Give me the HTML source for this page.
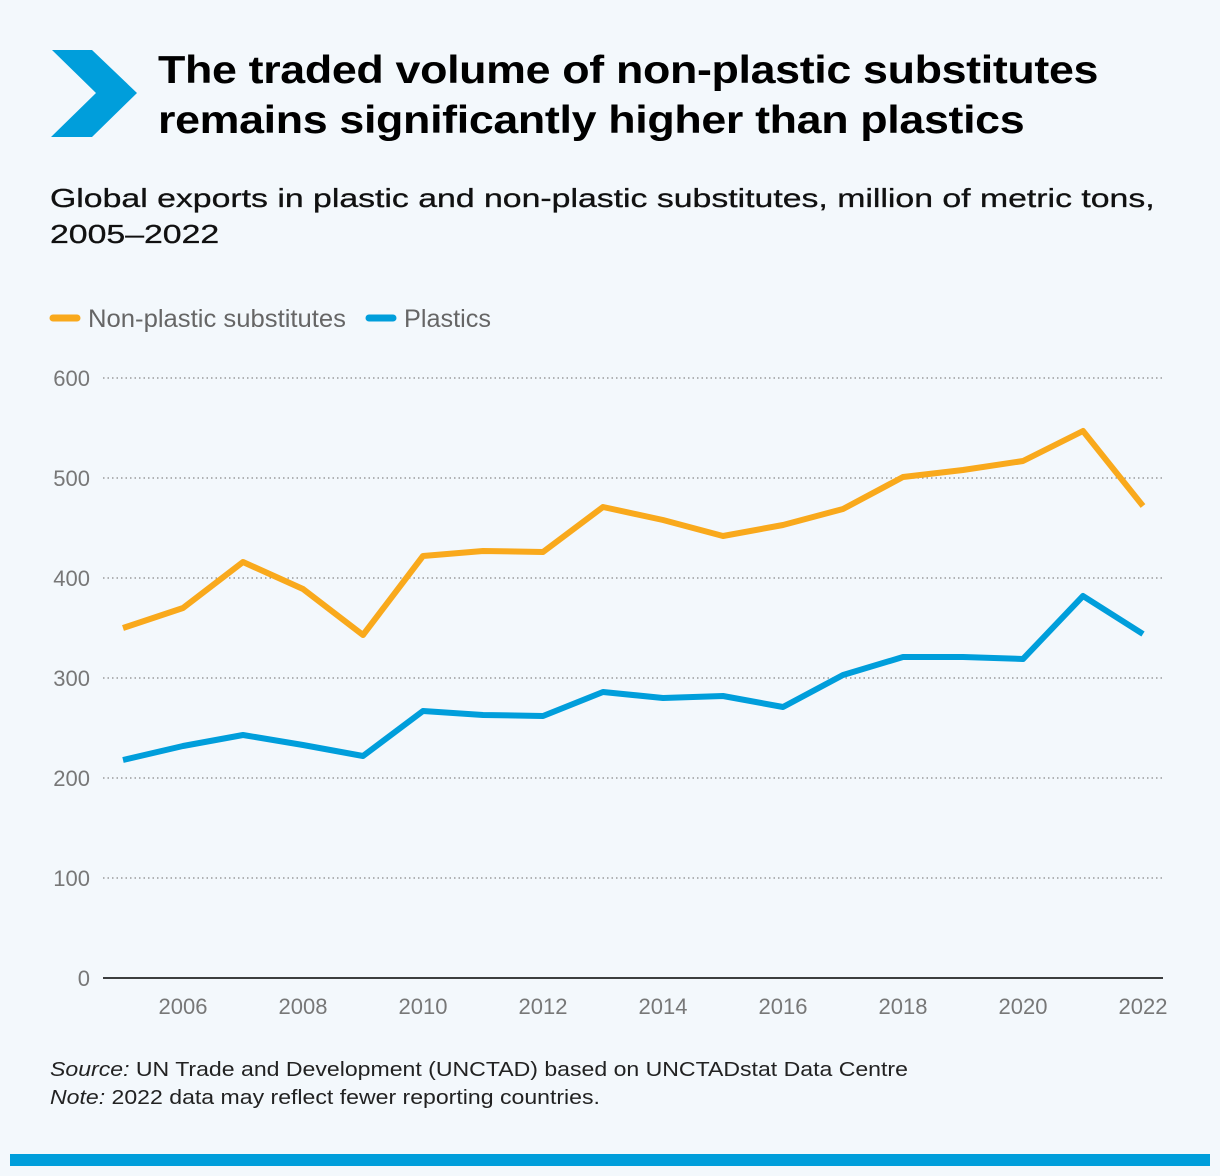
<!DOCTYPE html>
<html><head><meta charset="utf-8"><style>
body{margin:0;background:#f3f8fc;font-family:"Liberation Sans",sans-serif;}
#wrap{position:relative;width:1220px;height:1176px;overflow:hidden;background:#f3f8fc;}
h1{position:absolute;left:158px;top:46px;margin:0;font-size:39px;line-height:50px;font-weight:bold;color:#000;letter-spacing:-0.3px;white-space:nowrap;transform:scaleX(1.148);transform-origin:left top;}
.sub{position:absolute;left:50px;top:180px;font-size:26px;line-height:36px;color:#111;white-space:nowrap;transform:scaleX(1.3);transform-origin:left top;-webkit-text-stroke:0.3px #111;}
.src{position:absolute;left:50px;top:1056px;font-size:20.5px;line-height:28px;color:#222;white-space:nowrap;transform:scaleX(1.125);transform-origin:left top;}
.bar{position:absolute;left:10px;top:1154px;width:1200px;height:12px;background:#009edb;}
</style></head><body>
<div id="wrap">
<svg width="140" height="150" style="position:absolute;left:0;top:0"><polygon points="52,50 92,50 137,93 92,137 51,137 96,93" fill="#009edb"/></svg>
<h1>The traded volume of non-plastic substitutes<br>remains significantly higher than plastics</h1>
<div class="sub">Global exports in plastic and non-plastic substitutes, million of metric tons,<br>2005–2022</div>
<svg id="chart" width="1220" height="1176" style="position:absolute;left:0;top:0"></svg>
<div class="src"><i>Source:</i> UN Trade and Development (UNCTAD) based on UNCTADstat Data Centre<br><i>Note:</i> 2022 data may reflect fewer reporting countries.</div>
<div class="bar"></div>
</div>
<script>
const years=[2005,2006,2007,2008,2009,2010,2011,2012,2013,2014,2015,2016,2017,2018,2019,2020,2021,2022];
const nonPlastic=[350,370,416,389,343,422,427,426,471,458,442,453,469,501,508,517,547,472];
const plastics=[218,232,243,233,222,267,263,262,286,280,282,271,303,321,321,319,382,344];
const yTicks=[0,100,200,300,400,500,600];
const xTicks=[2006,2008,2010,2012,2014,2016,2018,2020,2022];
const seriesNames=["Non-plastic substitutes","Plastics"];
const colors=["#f9a91c","#009edb"];
const NS="http://www.w3.org/2000/svg";
const svg=document.getElementById('chart');
const x=v=>123+(v-2005)*60;
const y=v=>978-v*1;
function mk(t,a,p){const e=document.createElementNS(NS,t);for(const k in a)e.setAttribute(k,a[k]);(p||svg).appendChild(e);return e;}
yTicks.forEach(t=>{
  if(t>0){const l=mk('line',{x1:103,x2:1163,y1:y(t),y2:y(t),stroke:'#888','stroke-width':1.3,'stroke-dasharray':'1.5 3'});
  
  }
  const tx=mk('text',{x:90,y:y(t)+8,'text-anchor':'end','font-size':22,fill:'#777','font-family':'Liberation Sans'});
  tx.textContent=t;
  
  
});
const ax=mk('line',{x1:103,x2:1163,y1:y(0),y2:y(0),stroke:'#000','stroke-width':1.5});


xTicks.forEach(t=>{
  const tx=mk('text',{x:x(t),y:1014,'text-anchor':'middle','font-size':22,fill:'#777','font-family':'Liberation Sans'});
  tx.textContent=t;
  
  
});
[nonPlastic,plastics].forEach((s,i)=>{
  const p=mk('polyline',{points:s.map((v,j)=>x(years[j])+','+y(v)).join(' '),fill:'none',stroke:colors[i],'stroke-width':6,'stroke-linejoin':'round'});
  
  
});
let lx=50;
seriesNames.forEach((n,i)=>{
  const g=mk('g',{});
  
  
  mk('line',{x1:lx+3,x2:lx+27,y1:318,y2:318,stroke:colors[i],'stroke-width':7,'stroke-linecap':'round'},g);
  const t=mk('text',{x:lx+38,y:327,'font-size':25,fill:'#666','font-family':'Liberation Sans',textLength:i?87:258,lengthAdjust:'spacingAndGlyphs'},g);
  t.textContent=n;
  lx+=i?0:316;
});
</script>
</body></html>
